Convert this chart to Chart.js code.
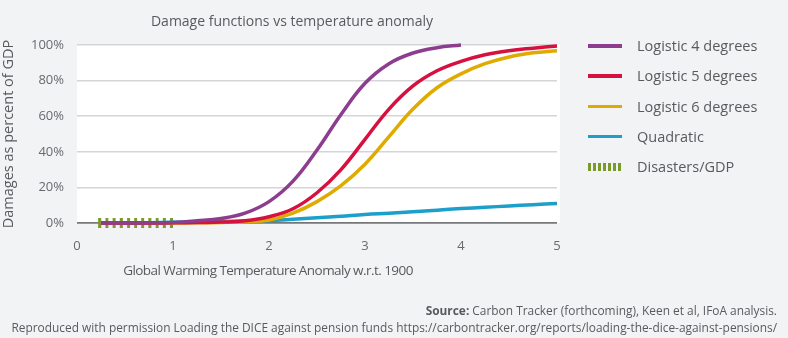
<!DOCTYPE html>
<html lang="en">

<head>
    <meta charset="UTF-8">
    <title>Damage functions vs temperature anomaly</title>
    <script src="https://cdn.jsdelivr.net/npm/chart.js"></script>
    <style>
        body {
            margin: 0;
            padding: 0;
            background: #f2f3f5;
            font-family: 'Open Sans', sans-serif;
            color: #5a5a5e;
        }

        #wrap {
            position: relative;
            width: 788px;
            height: 338px;
        }

        #damageChart {
            position: absolute;
            left: 0;
            top: 0;
        }

        .chart-title {
            position: absolute;
            left: 0;
            width: 584px;
            top: 11px;
            text-align: center;
            font-size: 14px;
        }

        .x-title {
            position: absolute;
            left: 0;
            width: 536px;
            top: 261px;
            text-align: center;
            font-size: 13.5px;
            letter-spacing: -0.55px;
        }

        .legend {
            position: absolute;
            left: 588px;
            top: 36px;
        }

        .legend-item {
            position: relative;
            height: 30.3px;
            font-size: 14.5px;
            line-height: 20px;
        }

        .legend-item .swatch {
            position: absolute;
            left: 0;
            top: 8px;
            width: 34px;
            height: 3.5px;
        }

        .legend-item span {
            position: absolute;
            left: 49px;
            top: 0;
            white-space: nowrap;
        }

        .legend-item .swatch.dashed {
            top: 6px;
            height: 8px;
        }

        .source {
            position: absolute;
            right: 11px;
            text-align: right;
            font-size: 11.9px;
            white-space: nowrap;
        }
    </style>
</head>

<body>
    <div id="wrap">
        <canvas id="damageChart" width="788" height="338"></canvas>
        <div class="chart-title">Damage functions vs temperature anomaly</div>
        <div class="x-title">Global Warming Temperature Anomaly w.r.t. 1900</div>
        <div class="legend" id="legend"></div>
        <div class="source" style="top: 302px;"><b>Source:</b> Carbon Tracker (forthcoming), Keen et al, IFoA analysis.</div>
        <div class="source" style="top: 319px;">Reproduced with permission Loading the DICE against pension funds https://carbontracker.org/reports/loading-the-dice-against-pensions/</div>
    </div>

    <script>
        // Temperature anomaly (deg C) sample points
        const temps = [0.25, 0.5, 0.75, 1, 1.25, 1.5, 1.75, 2, 2.25, 2.5, 2.75, 3, 3.25, 3.5, 3.75, 4, 4.25, 4.5, 4.75, 5];

        // Damages as % of GDP
        const logistic4 = [0, 0, 0.1, 0.3, 1.2, 2.5, 5.5, 12, 23.5, 41, 61, 78.5, 89.5, 95.5, 98.5, 100];
        const logistic5 = [0, 0, 0, 0.1, 0.3, 0.5, 1.2, 3.5, 8, 17, 30, 47, 64, 77, 85.5, 90.8, 94.5, 96.8, 98.2, 99.4];
        const logistic6 = [0, 0, 0, 0, 0.1, 0.3, 0.8, 1.7, 5.5, 12, 21, 33, 48.5, 64, 76, 83.8, 89.5, 93.3, 95.6, 96.8];
        const quadratic = [0, 0.1, 0.2, 0.4, 0.6, 0.8, 1.1, 1.4, 2.1, 2.9, 3.8, 4.8, 5.5, 6.3, 7.2, 8.1, 8.8, 9.6, 10.3, 11];
        const disasterTemps = [0.22, 1.03];
        const disasters = [0, 0];

        const yTicks = [0, 20, 40, 60, 80, 100];
        const xTicks = [0, 1, 2, 3, 4, 5];

        const labels = ["Logistic 4 degrees", "Logistic 5 degrees", "Logistic 6 degrees", "Quadratic", "Disasters/GDP"];
        const colors = ["#8c3d8e", "#d6103f", "#e0ab00", "#1c9fca", "#7a9a2c"];

        function toPoints(xs, ys) {
            return ys.map((y, i) => ({ x: xs[i], y: y }));
        }

        const series = [
            toPoints(temps, logistic4),
            toPoints(temps, logistic5),
            toPoints(temps, logistic6),
            toPoints(temps, quadratic),
            toPoints(disasterTemps, disasters)
        ];

        // white plot background
        const plotBackground = {
            id: "plotBackground",
            beforeDraw(chart) {
                const { ctx, chartArea } = chart;
                ctx.save();
                ctx.fillStyle = "#ffffff";
                ctx.fillRect(chartArea.left, chartArea.top, chartArea.right - chartArea.left + 3, chartArea.bottom - chartArea.top);
                ctx.restore();
            }
        };

        const datasets = series.map((data, i) => ({
            label: labels[i],
            data: data,
            borderColor: colors[i],
            backgroundColor: colors[i],
            borderWidth: i === 4 ? 10 : 3.5,
            borderDash: i === 4 ? [3, 4.2] : [],
            borderCapStyle: "butt",
            pointRadius: 0,
            fill: false,
            tension: 0.4,
            clip: false
        }));

        new Chart(document.getElementById("damageChart").getContext("2d"), {
            type: "line",
            data: { datasets: datasets },
            plugins: [plotBackground],
            options: {
                responsive: false,
                animation: false,
                layout: {
                    padding: { top: 45, right: 231, bottom: 0, left: 0 }
                },
                plugins: {
                    legend: { display: false },
                    tooltip: { enabled: false }
                },
                scales: {
                    x: {
                        type: "linear",
                        min: 0,
                        max: 5,
                        afterBuildTicks: (scale) => { scale.ticks = xTicks.map(v => ({ value: v })); },
                        afterFit: (scale) => { scale.height = 115; },
                        grid: { display: false },
                        border: { display: false },
                        ticks: {
                            color: "#6a6a6e",
                            font: { family: "'Open Sans', sans-serif", size: 13 },
                            padding: 7
                        }
                    },
                    y: {
                        min: 0,
                        max: 100,
                        afterBuildTicks: (scale) => { scale.ticks = yTicks.map(v => ({ value: v })); },
                        afterFit: (scale) => { scale.width = 77; },
                        border: { display: false },
                        grid: {
                            drawTicks: false,
                            color: (c) => c.tick && c.tick.value === 0 ? "#77777a" : "#d5d5d9",
                            lineWidth: (c) => c.tick && c.tick.value === 0 ? 1.8 : 1.5
                        },
                        ticks: {
                            color: "#6a6a6e",
                            font: { family: "'Open Sans', sans-serif", size: 13 },
                            padding: 13,
                            callback: (v) => v + "%"
                        },
                        title: {
                            display: true,
                            text: "Damages as percent of GDP",
                            color: "#5a5a5e",
                            font: { family: "'Open Sans', sans-serif", size: 14.5 },
                            padding: 0
                        }
                    }
                }
            }
        });

        // legend built from the same labels and colours
        const legend = document.getElementById("legend");
        labels.forEach((text, i) => {
            const item = document.createElement("div");
            item.className = "legend-item";
            const swatch = document.createElement("div");
            swatch.className = "swatch";
            if (i === 4) {
                swatch.classList.add("dashed");
                swatch.style.background = "repeating-linear-gradient(90deg, " + colors[i] + " 0 3px, transparent 3px 5px)";
            } else {
                swatch.style.background = colors[i];
            }
            const span = document.createElement("span");
            span.textContent = text;
            item.appendChild(swatch);
            item.appendChild(span);
            legend.appendChild(item);
        });
    </script>
</body>

</html>
